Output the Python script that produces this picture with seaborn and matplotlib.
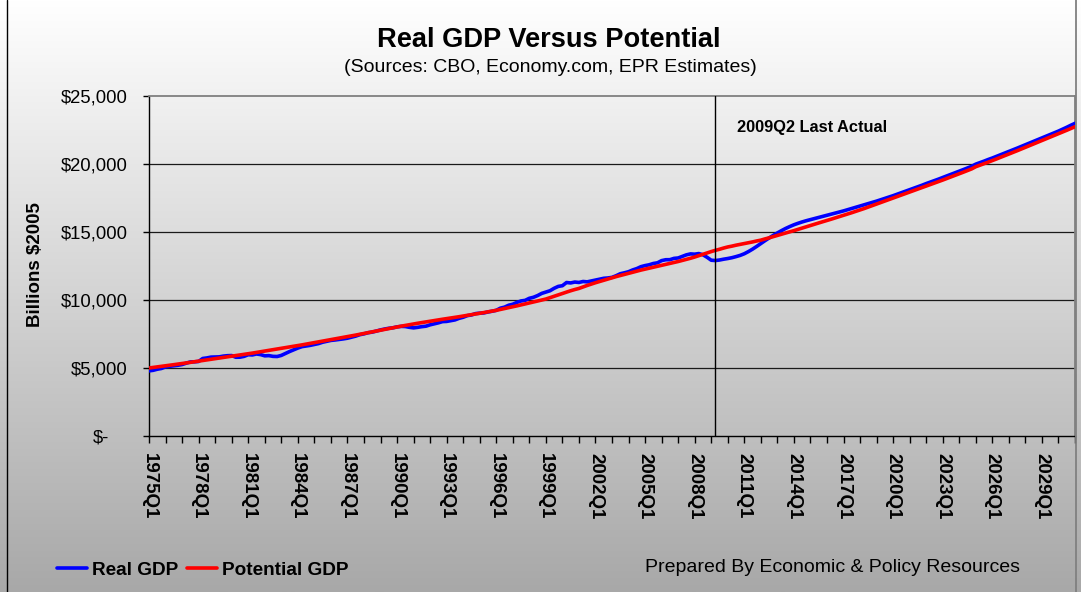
import numpy as np
import pandas as pd
import matplotlib
matplotlib.use("Agg")
import matplotlib.pyplot as plt
import seaborn as sns
from matplotlib.lines import Line2D
from matplotlib.transforms import ScaledTranslation

# ---------------- data ----------------
quarters = [f"{y}Q{q}" for y in range(1975, 2031) for q in range(1, 5)] + ["2031Q1"]

real_gdp_actual = [  # 1975Q1 - 2009Q2, billions of 2005 dollars
    4790, 4830, 4910, 4965,
    5080, 5125, 5160, 5200,
    5255, 5355, 5445, 5455,
    5480, 5700, 5740, 5800,
    5810, 5820, 5875, 5905,
    5915, 5790, 5795, 5855,
    5975, 5960, 6030, 5985,
    5895, 5910, 5855, 5845,
    5925, 6070, 6210, 6340,
    6465, 6570, 6615, 6665,
    6730, 6795, 6895, 6960,
    7030, 7060, 7100, 7140,
    7190, 7270, 7345, 7450,
    7510, 7595, 7640, 7715,
    7800, 7865, 7920, 7955,
    8025, 8060, 8050, 7990,
    7950, 7990, 8040, 8075,
    8175, 8250, 8320, 8410,
    8425, 8480, 8535, 8650,
    8730, 8850, 8900, 9000,
    9030, 9050, 9120, 9175,
    9240, 9400, 9475, 9615,
    9690, 9825, 9930, 9975,
    10125, 10200, 10325, 10485,
    10580, 10680, 10860, 11000,
    11050, 11285, 11255, 11320,
    11290, 11360, 11335, 11400,
    11470, 11525, 11595, 11620,
    11665, 11785, 11930, 12000,
    12080, 12210, 12310, 12450,
    12530, 12590, 12685, 12735,
    12895, 12960, 12965, 13060,
    13090, 13205, 13320, 13390,
    13370, 13415, 13325, 13140,
    12925, 12901,
]

real_gdp_forecast = [  # 2009Q3 - 2031Q1
    12940, 13000,
    13050, 13110, 13190, 13280,
    13400, 13560, 13740, 13940,
    14150, 14360, 14560, 14750,
    14930, 15100, 15260, 15400,
    15530, 15640, 15740, 15830,
    15910, 15990, 16070, 16150,
    16230, 16310, 16390, 16470,
    16550, 16640, 16730, 16820,
    16910, 17000, 17090, 17180,
    17270, 17370, 17470, 17570,
    17670, 17780, 17890, 18000,
    18110, 18220, 18330, 18440,
    18560, 18670, 18780, 18890,
    19010, 19125, 19240, 19355,
    19470, 19590, 19710, 19830,
    19990, 20100, 20210, 20330,
    20440, 20560, 20680, 20800,
    20920, 21040, 21165, 21290,
    21410, 21535, 21660, 21785,
    21910, 22035, 22160, 22290,
    22420, 22560, 22700, 22850,
    22990,
]

potential_gdp = [  # 1975Q1 - 2031Q1
    5000, 5040, 5080, 5120,
    5160, 5200, 5245, 5290,
    5330, 5370, 5415, 5460,
    5500, 5545, 5590, 5635,
    5680, 5725, 5770, 5815,
    5860, 5905, 5955, 6000,
    6050, 6095, 6145, 6190,
    6240, 6290, 6340, 6390,
    6440, 6490, 6545, 6595,
    6650, 6700, 6755, 6805,
    6860, 6915, 6970, 7025,
    7080, 7135, 7190, 7245,
    7300, 7360, 7420, 7480,
    7540, 7600, 7660, 7720,
    7780, 7840, 7900, 7960,
    8020, 8075, 8130, 8185,
    8240, 8290, 8340, 8390,
    8440, 8490, 8535, 8585,
    8630, 8675, 8725, 8770,
    8820, 8870, 8920, 8970,
    9020, 9075, 9130, 9185,
    9240, 9305, 9370, 9435,
    9500, 9570, 9640, 9710,
    9780, 9850, 9925, 10000,
    10070, 10170, 10270, 10375,
    10480, 10580, 10680, 10770,
    10850, 10960, 11070, 11170,
    11270, 11360, 11450, 11540,
    11630, 11720, 11800, 11880,
    11960, 12040, 12120, 12200,
    12270, 12340, 12410, 12480,
    12550, 12620, 12690, 12760,
    12830, 12910, 12990, 13070,
    13160, 13260, 13360, 13460,
    13560, 13650, 13730, 13820,
    13900, 13960, 14030, 14090,
    14150, 14210, 14270, 14340,
    14400, 14490, 14570, 14660,
    14750, 14840, 14925, 15010,
    15100, 15195, 15290, 15385,
    15480, 15570, 15665, 15755,
    15850, 15940, 16035, 16125,
    16220, 16320, 16420, 16520,
    16620, 16725, 16835, 16940,
    17050, 17160, 17270, 17380,
    17500, 17610, 17715, 17820,
    17930, 18040, 18150, 18260,
    18370, 18480, 18590, 18700,
    18820, 18935, 19050, 19165,
    19280, 19400, 19520, 19640,
    19800, 19910, 20020, 20135,
    20250, 20370, 20490, 20610,
    20730, 20850, 20975, 21100,
    21220, 21345, 21470, 21595,
    21720, 21845, 21970, 22095,
    22220, 22350, 22480, 22610,
    22740,
]

series_names = ["Real GDP", "Potential GDP"]
last_actual = "2009Q2"
y_ticks = [0, 5000, 10000, 15000, 20000, 25000]
y_tick_labels = ["$-", "$5,000", "$10,000", "$15,000", "$20,000", "$25,000"]
label_step = 12      # one label every 3 years
minor_step = 4       # one tick per year

real_gdp = real_gdp_actual + real_gdp_forecast
n = len(quarters)
df = pd.DataFrame({
    "idx": list(range(n)) * 2,
    "value": real_gdp + potential_gdp,
    "series": [series_names[0]] * n + [series_names[1]] * n,
})

# ---------------- figure ----------------
sns.set_theme(style="white")
plt.rcParams["font.family"] = ["Liberation Sans", "DejaVu Sans"]

W, H = 1081, 592
fig = plt.figure(figsize=(W / 100, H / 100), dpi=100)

# vertical gradient background
bg = fig.add_axes([0, 0, 1, 1], zorder=-10)
g = np.linspace(255, 168, 400) / 255.0
img = np.repeat(g[:, None], 3, axis=1)[:, None, :]
bg.imshow(img, aspect="auto", extent=[0, 1, 0, 1])
bg.set_axis_off()

left, right, top, bottom = 149, 1075, 96, 436
ax = fig.add_axes([left / W, 1 - bottom / H, (right - left) / W, (bottom - top) / H])
ax.patch.set_alpha(0)

for v in y_ticks[1:-1]:
    ax.axhline(v, color="#1a1a1a", lw=0.9, zorder=1)

sns.lineplot(data=df, x="idx", y="value", hue="series", hue_order=series_names,
             palette={"Real GDP": "#0000FF", "Potential GDP": "#FF0000"},
             linewidth=2.6, estimator=None, sort=False, legend=False, ax=ax, zorder=3)

ax.axvline(quarters.index(last_actual), color="black", lw=1.0, zorder=4)

ax.set_xlim(0, n - 1)
ax.set_ylim(0, 25000)
ax.set_xlabel("")
ax.set_ylabel("")

ax.set_yticks(y_ticks)
ax.set_yticklabels(y_tick_labels)
major_x = list(range(0, n - 1, label_step))
ax.set_xticks(major_x)
ax.set_xticklabels([quarters[i] for i in major_x], rotation=-90,
                   fontweight="bold", fontsize=13.5, color="black")
ax.set_xticks(list(range(0, n, minor_step)), minor=True)

ax.tick_params(axis="y", direction="out", length=4.5, width=1, color="black",
               pad=11, labelsize=13.3, labelcolor="black", left=True)
ax.tick_params(axis="x", which="both", direction="out", length=5, width=1,
               color="black", pad=7, bottom=True)

for s in ["left", "bottom"]:
    ax.spines[s].set_color("black")
    ax.spines[s].set_linewidth(1.0)
for s in ["top", "right"]:
    ax.spines[s].set_color("#808080")
    ax.spines[s].set_linewidth(1.3)

zero_tick = ax.yaxis.get_major_ticks()[0]
zero_tick.label1.set_transform(zero_tick.label1.get_transform()
                               + ScaledTranslation(-0.18, 0, fig.dpi_scale_trans))

ax.text(142.2, 22720, "2009Q2 Last Actual", fontsize=11.8, fontweight="bold",
        ha="left", va="center", color="black")

fig.text(549 / W, 1 - 40 / H, "Real GDP Versus Potential", fontsize=19.6,
         fontweight="bold", ha="center", va="center", color="black")
fig.text(550 / W, 1 - 68 / H, "(Sources: CBO, Economy.com, EPR Estimates)",
         fontsize=14, ha="center", va="center", color="black")
fig.text(35 / W, 1 - 265 / H, "Billions $2005", rotation=90, fontsize=13.5,
         fontweight="bold", ha="center", va="center", color="black")
fig.text(645 / W, 1 - 567 / H, "Prepared By Economic & Policy Resources",
         fontsize=14, ha="left", va="center", color="black")

handles = [Line2D([], [], color="#0000FF", lw=2.6), Line2D([], [], color="#FF0000", lw=2.6)]
fig.legend(handles=handles, labels=series_names, loc="center left",
           bbox_to_anchor=(57 / W, 1 - 570 / H), ncol=2, frameon=False,
           prop={"weight": "bold", "size": 13.7}, handlelength=1.6,
           handletextpad=0.25, columnspacing=0.45, borderpad=0, borderaxespad=0,
           labelcolor="black")

# chart-area border
fig.add_artist(Line2D([6.5 / W, 6.5 / W], [0, 1], transform=fig.transFigure,
                      color="black", lw=1))
fig.add_artist(Line2D([1075.5 / W, 1075.5 / W], [0, 1], transform=fig.transFigure,
                      color="#808080", lw=1.3))

fig.savefig("out.png", dpi=100)
